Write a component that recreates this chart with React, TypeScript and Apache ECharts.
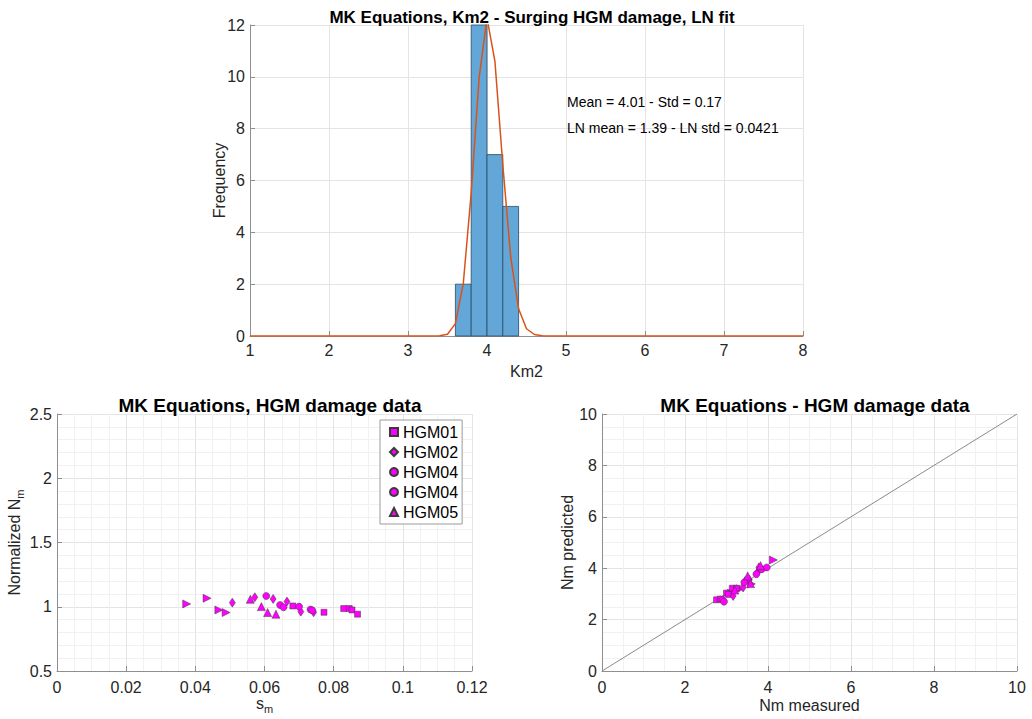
import React, { useEffect, useRef } from "react";
import * as echarts from "echarts";

// ---------- Histogram (Km2) ----------
const binEdges = [3.6, 3.8, 4.0, 4.2, 4.4];
const binCounts = [2, 12, 7, 5];
const fitX = [1, 3.3, 3.4, 3.5, 3.6, 3.7, 3.8, 3.9, 4.0, 4.1, 4.2, 4.3, 4.4, 4.5, 4.6, 4.7, 4.8, 8];
const fitY = [0, 0, 0.006, 0.069, 0.477, 2.03, 5.52, 9.96, 12.27, 10.61, 6.61, 3.04, 1.05, 0.28, 0.058, 0.01, 0, 0];
const statLines = ["Mean = 4.01 - Std = 0.17", "LN mean = 1.39 - LN std = 0.0421"];

// ---------- Normalized Nm vs s_m ----------
const smHGM01 = [0.0682, 0.0772, 0.0829, 0.0845, 0.0853, 0.0869];
const nmHGM01 = [1.006, 0.957, 0.986, 0.986, 0.975, 0.942];
const smHGM02 = [0.0507, 0.0572, 0.0625, 0.0665, 0.0705, 0.0742];
const nmHGM02 = [1.032, 1.074, 1.061, 1.04, 0.962, 0.957];
const smHGM04a = [0.0605, 0.0645, 0.0655];
const nmHGM04a = [1.084, 1.014, 0.996];
const smHGM04b = [0.07, 0.0733, 0.0738];
const nmHGM04b = [1.001, 0.978, 0.972];
const smHGM05 = [0.0559, 0.0591, 0.0609, 0.0633];
const nmHGM05 = [1.058, 1.001, 0.955, 0.942];
const smHGM03 = [0.0375, 0.0434, 0.0468, 0.0489];
const nmHGM03 = [1.022, 1.066, 0.975, 0.955];

// ---------- Nm measured vs predicted ----------
const measHGM01 = [2.76, 3.0, 3.14, 3.24, 2.85, 3.05];
const predHGM01 = [2.77, 3.03, 3.22, 3.22, 2.8, 2.98];
const measHGM02 = [3.16, 3.4, 3.55, 3.75, 3.78, 3.45];
const predHGM02 = [2.92, 3.25, 3.55, 3.85, 4.03, 3.5];
const measHGM04a = [2.9, 2.94, 3.43];
const predHGM04a = [2.77, 2.7, 3.45];
const measHGM04b = [3.72, 3.85, 3.97];
const predHGM04b = [3.77, 3.96, 4.03];
const measHGM05 = [3.51, 3.82, 3.58, 3.2];
const predHGM05 = [3.7, 4.1, 3.4, 3.15];
const measHGM03 = [4.13, 3.6, 3.12, 3.33];
const predHGM03 = [4.32, 3.39, 3.03, 3.2];
const diagLine = [0, 10];

const legendNames = ["HGM01", "HGM02", "HGM04", "HGM04b", "HGM05"];

const FONT = "'Liberation Sans', Arial, Helvetica, sans-serif";
const TXT = "#262626";
const AXIS = "#8f8f8f";
const GRID = "#e4e4e4";
const MINOR = "#f1f1f1";
const MAG = "#FF00FF";

const zip = (a: number[], b: number[]) => a.map((v, i) => [v, b[i]]);

export default function App() {
  const ref = useRef<HTMLDivElement>(null);
  useEffect(() => {
    if (!ref.current) return;
    const chart = echarts.init(ref.current, null, { renderer: "svg" });

    const axisCommon = () => ({
      axisLine: { show: true, onZero: false, lineStyle: { color: AXIS, width: 1 } },
      axisTick: { show: true, inside: true, length: 5, lineStyle: { color: AXIS } },
      splitLine: { show: true, lineStyle: { color: GRID, width: 1 } },
    });

    const subRich = {
      b: { fontSize: 16, color: TXT, fontFamily: FONT, lineHeight: 22, verticalAlign: "middle" },
      sub: { fontSize: 11, color: TXT, fontFamily: FONT, lineHeight: 11, verticalAlign: "bottom" },
    };

    const scatterDefs = [
      { name: "HGM03", symbol: "triangle", rotate: -90, size: 8, l: zip(smHGM03, nmHGM03), r: zip(measHGM03, predHGM03) },
      { name: "HGM01", symbol: "rect", rotate: 0, size: 6, l: zip(smHGM01, nmHGM01), r: zip(measHGM01, predHGM01) },
      { name: "HGM02", symbol: "diamond", rotate: 0, size: [6, 9], l: zip(smHGM02, nmHGM02), r: zip(measHGM02, predHGM02) },
      { name: "HGM04", symbol: "circle", rotate: 0, size: 7, l: zip(smHGM04a, nmHGM04a), r: zip(measHGM04a, predHGM04a) },
      { name: "HGM04b", symbol: "circle", rotate: 0, size: 7, l: zip(smHGM04b, nmHGM04b), r: zip(measHGM04b, predHGM04b) },
      { name: "HGM05", symbol: "triangle", rotate: 0, size: 8, l: zip(smHGM05, nmHGM05), r: zip(measHGM05, predHGM05) },
    ];

    const scatterSeries: any[] = [];
    scatterDefs.forEach((d) => {
      [1, 2].forEach((gi) => {
        scatterSeries.push({
          type: "scatter",
          name: d.name,
          xAxisIndex: gi,
          yAxisIndex: gi,
          symbol: d.symbol,
          symbolRotate: d.rotate,
          symbolSize: d.size,
          itemStyle: { color: MAG, borderColor: "#3a3a3a", borderWidth: 0.5, opacity: 1 },
          data: gi === 1 ? d.l : d.r,
          z: 5,
        });
      });
    });

    const legendText = { fontSize: 16, color: "#000", fontFamily: FONT, lineHeight: 20 };

    chart.setOption({
      animation: false,
      backgroundColor: "#ffffff",
      textStyle: { fontFamily: FONT },
      title: [
        {
          text: "MK Equations, Km2 - Surging HGM damage, LN fit",
          left: 527,
          top: 4,
          textAlign: "center",
          textStyle: { fontSize: 17, fontWeight: "bold", color: "#000", fontFamily: FONT },
        },
        {
          text: "MK Equations, HGM damage data",
          left: 265,
          top: 391,
          textAlign: "center",
          textStyle: { fontSize: 19, fontWeight: "bold", color: "#000", fontFamily: FONT },
        },
        {
          text: "MK Equations - HGM damage data",
          left: 810,
          top: 391,
          textAlign: "center",
          textStyle: { fontSize: 19, fontWeight: "bold", color: "#000", fontFamily: FONT },
        },
      ],
      grid: [
        { left: 250, top: 25, width: 553, height: 311, containLabel: false },
        { left: 57, top: 414, width: 415, height: 257, containLabel: false },
        { left: 602, top: 414, width: 415, height: 257, containLabel: false },
      ],
      legend: {
        data: legendNames.map((n) => ({ name: n, textStyle: legendText })),
        orient: "vertical",
        left: 380,
        top: 420,
        padding: [2, 4, 2, 9],
        itemGap: 0,
        itemWidth: 8,
        itemHeight: 8,
        backgroundColor: "#fff",
        borderColor: "#9a9a9a",
        borderWidth: 1,
        borderRadius: 0,
        textStyle: legendText,
        formatter: (n: string) => (n === "HGM04b" ? "HGM04" : n),
        selectedMode: false,
      },
      xAxis: [
        {
          gridIndex: 0,
          type: "value",
          min: 1,
          max: 8,
          interval: 1,
          name: "Km2",
          nameLocation: "middle",
          nameGap: 27,
          ...axisCommon(),
          axisLabel: { color: TXT, fontSize: 16, fontFamily: FONT, margin: 6 },
          nameTextStyle: { color: TXT, fontSize: 16, fontFamily: FONT },
        },
        {
          gridIndex: 1,
          type: "value",
          min: 0,
          max: 0.12,
          interval: 0.02,
          name: "{b|s}{sub|m}",
          nameLocation: "middle",
          nameGap: 19,
          ...axisCommon(),
          axisLabel: { color: TXT, fontSize: 16, fontFamily: FONT, margin: 8 },
          minorTick: { show: false, splitNumber: 4 },
          minorSplitLine: { show: true, lineStyle: { color: MINOR } },
          nameTextStyle: { color: TXT, fontFamily: FONT, rich: subRich },
        },
        {
          gridIndex: 2,
          type: "value",
          min: 0,
          max: 10,
          interval: 2,
          name: "Nm measured",
          nameLocation: "middle",
          nameGap: 26,
          ...axisCommon(),
          axisLabel: { color: TXT, fontSize: 16, fontFamily: FONT, margin: 8 },
          minorTick: { show: false, splitNumber: 4 },
          minorSplitLine: { show: true, lineStyle: { color: MINOR } },
          nameTextStyle: { color: TXT, fontSize: 16, fontFamily: FONT },
        },
      ],
      yAxis: [
        {
          gridIndex: 0,
          type: "value",
          min: 0,
          max: 12,
          interval: 2,
          name: "Frequency",
          nameLocation: "middle",
          nameGap: 23,
          nameMoveOverlap: false,
          ...axisCommon(),
          axisLabel: { color: TXT, fontSize: 16, fontFamily: FONT, margin: 5 },
          nameTextStyle: { color: TXT, fontSize: 16, fontFamily: FONT },
        },
        {
          gridIndex: 1,
          type: "value",
          min: 0.5,
          max: 2.5,
          interval: 0.5,
          name: "{b|Normalized N}{sub|m}",
          nameLocation: "middle",
          nameGap: 32,
          ...axisCommon(),
          axisLabel: { color: TXT, fontSize: 16, fontFamily: FONT, margin: 5 },
          minorTick: { show: false, splitNumber: 5 },
          minorSplitLine: { show: true, lineStyle: { color: MINOR } },
          nameTextStyle: { color: TXT, fontFamily: FONT, rich: subRich },
        },
        {
          gridIndex: 2,
          type: "value",
          min: 0,
          max: 10,
          interval: 2,
          name: "Nm predicted",
          nameLocation: "middle",
          nameGap: 26,
          ...axisCommon(),
          axisLabel: { color: TXT, fontSize: 16, fontFamily: FONT, margin: 5 },
          minorTick: { show: false, splitNumber: 4 },
          minorSplitLine: { show: true, lineStyle: { color: MINOR } },
          nameTextStyle: { color: TXT, fontSize: 16, fontFamily: FONT },
        },
      ],
      graphic: statLines.map((t, i) => ({
        type: "text",
        left: 567,
        top: 95 + i * 26,
        z: 10,
        style: { text: t, fontSize: 14, fill: "#000", fontFamily: FONT },
      })),
      series: [
        {
          type: "custom",
          name: "hist",
          xAxisIndex: 0,
          yAxisIndex: 0,
          data: binCounts.map((c, i) => [binEdges[i], binEdges[i + 1], c]),
          encode: { x: [0, 1], y: 2 },
          renderItem: (params: any, api: any) => {
            const p0 = api.coord([api.value(0), api.value(2)]);
            const p1 = api.coord([api.value(1), 0]);
            return {
              type: "rect",
              shape: { x: p0[0], y: p0[1], width: p1[0] - p0[0], height: p1[1] - p0[1] },
              style: { fill: "#62A7D8", stroke: "#2c4a63", lineWidth: 0.8 },
            };
          },
          z: 2,
        },
        {
          type: "line",
          name: "fit",
          xAxisIndex: 0,
          yAxisIndex: 0,
          data: zip(fitX, fitY),
          showSymbol: false,
          symbol: "none",
          clip: true,
          lineStyle: { color: "#D95319", width: 1.5 },
          z: 3,
        },
        {
          type: "line",
          name: "diag",
          xAxisIndex: 2,
          yAxisIndex: 2,
          data: zip(diagLine, diagLine),
          showSymbol: false,
          symbol: "none",
          lineStyle: { color: "#8a8a8a", width: 1 },
          z: 2,
        },
        ...scatterSeries,
      ],
    });
    return () => chart.dispose();
  }, []);
  return (
    <div
      ref={ref}
      style={{ position: "absolute", left: 0, top: 0, width: 1032, height: 719, background: "#fff" }}
    />
  );
}
